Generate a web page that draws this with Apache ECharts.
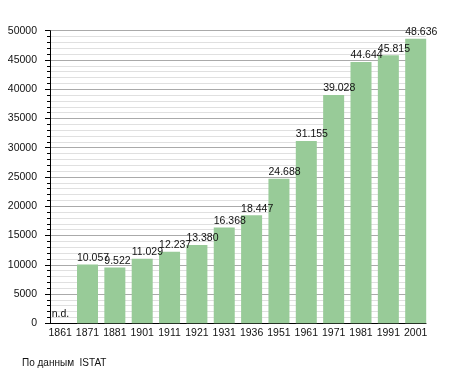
<!DOCTYPE html>
<html>
<head>
<meta charset="utf-8">
<script src="https://cdn.jsdelivr.net/npm/echarts@6/dist/echarts.min.js"></script>
<style>html,body{margin:0;padding:0;background:#fff}#c{width:455px;height:373px}</style>
</head>
<body>
<div id="c"></div>
<script>
var years = ['1861','1871','1881','1901','1911','1921','1931','1936','1951','1961','1971','1981','1991','2001'];
var population = [null,10057,9522,11029,12237,13380,16368,18447,24688,31155,39028,44644,45815,48636];
var yTicks = {min: 0, max: 50000, interval: 5000};
var source = 'По данным  ISTAT';

function fmt(v){ return String(v).replace(/\B(?=(\d{3})+(?!\d))/g, '.'); }

var barData = population.map(function(v){
  if (v === null) {
    return {value: 0, itemStyle: {color: 'transparent'},
      label: {formatter: 'n.d.', position: [2, -4]}};
  }
  return v;
});

var FONT = 'Liberation Sans, Arial, sans-serif';
var chart = echarts.init(document.getElementById('c'), null, {renderer: 'canvas'});
chart.setOption({
  animation: false,
  backgroundColor: '#fff',
  grid: [
    {left: 50, right: 29, top: 30.7, bottom: 49.7},
    {left: 60.15, right: 39.3, top: 30.7, bottom: 49.7}
  ],
  xAxis: [
    {gridIndex: 0, type: 'value', min: 0, max: 1,
     axisLine: {show: true, onZero: false, lineStyle: {color: '#000', width: 1}},
     axisTick: {show: false}, axisLabel: {show: false}, splitLine: {show: false}},
    {gridIndex: 1, type: 'category', data: years, boundaryGap: false,
     axisLine: {show: false}, axisTick: {show: false}, splitLine: {show: false},
     axisLabel: {interval: 0, margin: 4, color: '#111', fontSize: 10.5, fontFamily: FONT}}
  ],
  yAxis: [
    {gridIndex: 0, type: 'value', min: yTicks.min, max: yTicks.max, interval: yTicks.interval,
     axisLine: {show: true, lineStyle: {color: '#000', width: 1}},
     axisTick: {show: true, length: 5, lineStyle: {color: '#000'}},
     minorTick: {show: true, splitNumber: 5, length: 3, lineStyle: {color: '#000'}},
     splitLine: {show: true, lineStyle: {color: '#aaa', width: 1}},
     minorSplitLine: {show: true, lineStyle: {color: '#e0e0e0', width: 1}},
     axisLabel: {margin: 13, color: '#111', fontSize: 10.5, fontFamily: FONT,
       formatter: function(v){ return String(v); }}},
    {gridIndex: 1, type: 'value', min: yTicks.min, max: yTicks.max, show: false,
     splitLine: {show: false}}
  ],
  series: [{
    type: 'bar', xAxisIndex: 1, yAxisIndex: 1, data: barData, barWidth: 21, clip: false,
    itemStyle: {color: '#98cb98'},
    label: {show: true, position: [0, -1], align: 'left', verticalAlign: 'bottom',
      color: '#111', fontSize: 10.5, fontFamily: FONT,
      formatter: function(p){ return fmt(p.value); }}
  }],
  graphic: [{type: 'text', left: 22, top: 358,
    style: {text: source, fill: '#111', font: '10px ' + FONT}}]
});
</script>
</body>
</html>
